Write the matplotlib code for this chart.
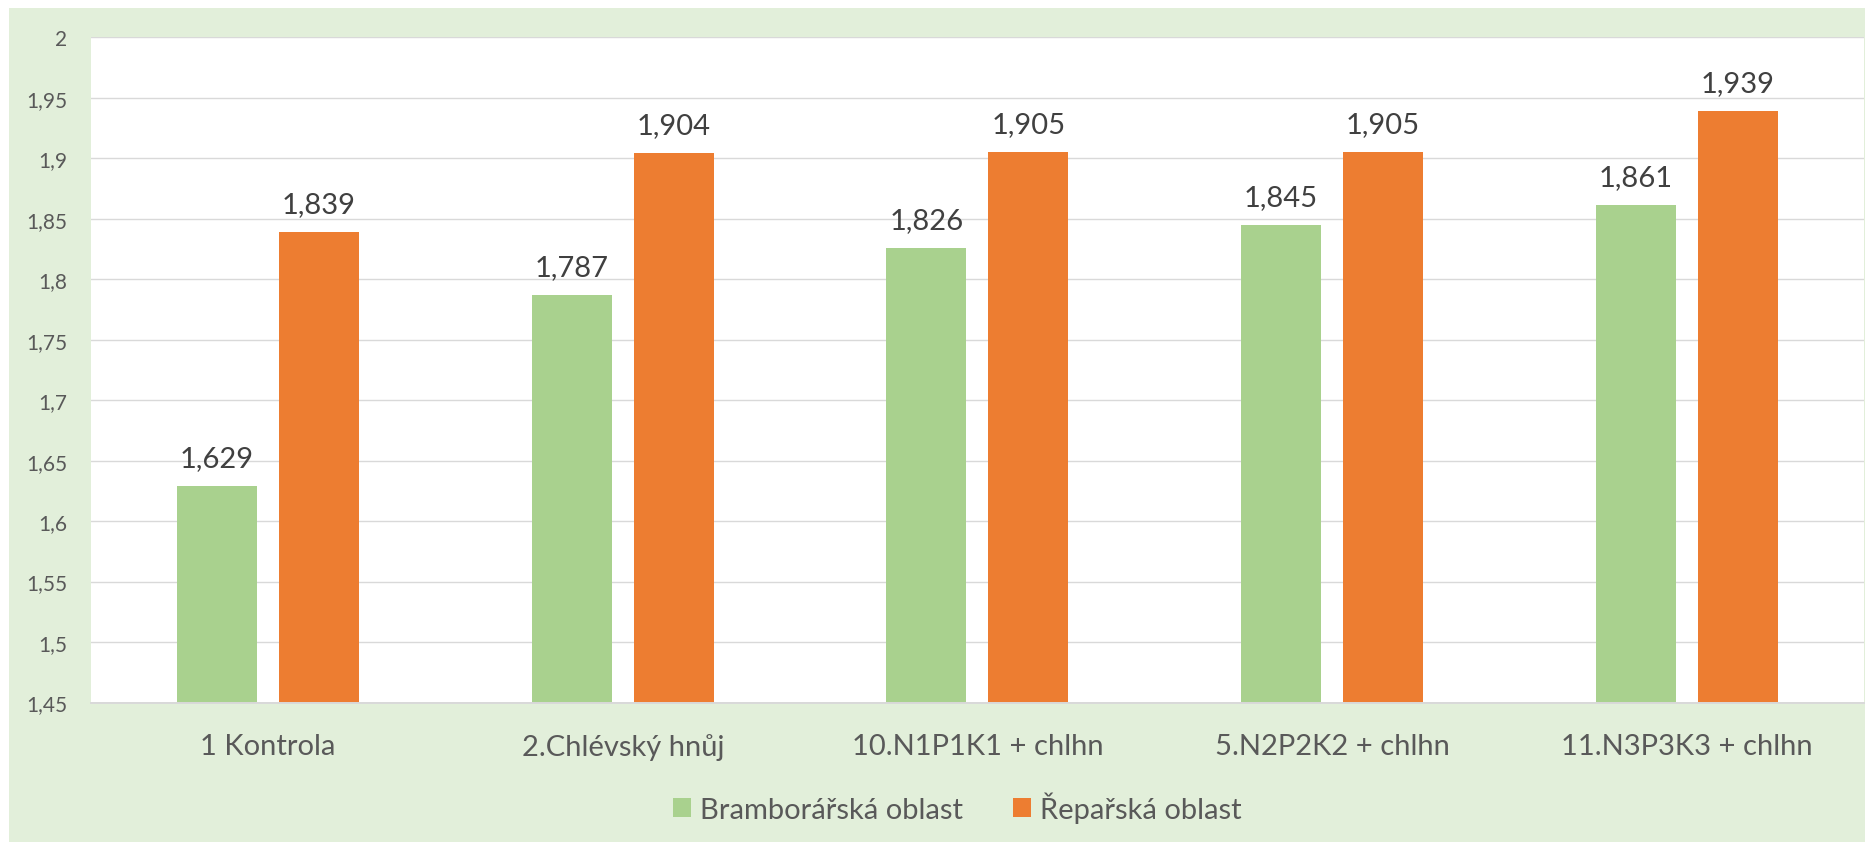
import matplotlib
matplotlib.use("Agg")
import matplotlib.pyplot as plt
from matplotlib.patches import Rectangle
import numpy as np

categories = ["1 Kontrola", "2.Chlévský hnůj", "10.N1P1K1 + chlhn", "5.N2P2K2 + chlhn", "11.N3P3K3 + chlhn"]
series_names = ["Bramborářská oblast", "Řepařská oblast"]
brambor = [1.629, 1.787, 1.826, 1.845, 1.861]
repar = [1.839, 1.904, 1.905, 1.905, 1.939]
yticks = [1.45, 1.5, 1.55, 1.6, 1.65, 1.7, 1.75, 1.8, 1.85, 1.9, 1.95, 2.0]

GREEN = "#A9D18E"
ORANGE = "#ED7D31"
BG = "#E2EFDA"
GRID = "#D9D9D9"
TXT = "#595959"
LBL = "#404040"

plt.rcParams['font.family'] = ['Lato', 'DejaVu Sans']

W, H = 1867, 845
fig = plt.figure(figsize=(W / 100, H / 100), dpi=100)
fig.patch.set_facecolor("white")
fig.add_artist(Rectangle((9 / W, 1 - 843 / H), (1865 - 9) / W, (843 - 9) / H,
                         transform=fig.transFigure, facecolor=BG, edgecolor="none", zorder=0))

left, right, top, bottom = 90.7, 1864, 38.3, 703.5
ax = fig.add_axes([left / W, 1 - bottom / H, (right - left) / W, (bottom - top) / H])
ax.set_facecolor("white")

x = np.arange(len(categories))
w = 80 / 354.7
off = 51 / 354.7
b1 = ax.bar(x - off, brambor, w, color=GREEN, label=series_names[0], zorder=3)
b2 = ax.bar(x + off, repar, w, color=ORANGE, label=series_names[1], zorder=3)

for bars, vals in ((b1, brambor), (b2, repar)):
    for r, v in zip(bars, vals):
        ax.annotate(f"{v:.3f}".replace(".", ","), (r.get_x() + r.get_width() / 2, v),
                    xytext=(0, 14.4), textcoords="offset points", ha="center", va="baseline",
                    fontsize=21, color=LBL, zorder=4)

ax.set_xlim(-0.5, len(categories) - 0.5)
ax.set_ylim(1.45, 2.0)
ax.set_yticks(yticks)
ax.set_yticklabels([f"{round(v, 2):g}".replace(".", ",") for v in yticks])
ax.set_xticks(x)
ax.set_xticklabels(categories)
ax.tick_params(axis="y", length=0, pad=17, labelsize=15, labelcolor=TXT)
ax.tick_params(axis="x", length=0, pad=22, labelsize=21, labelcolor=TXT)

ax.yaxis.grid(True, color=GRID, linewidth=1.0, zorder=0)
ax.set_axisbelow(True)
for s in ("left", "right", "top"):
    ax.spines[s].set_visible(False)
ax.spines["bottom"].set_color(GRID)
ax.spines["bottom"].set_linewidth(1.4)
ax.spines["bottom"].set_zorder(5)

leg = fig.legend(handles=[b1, b2], labels=series_names, loc="center",
                 bbox_to_anchor=(957.5 / W, 1 - 808 / H), ncol=2, frameon=False,
                 fontsize=21, handlelength=0.62, handleheight=0.62, handletextpad=0.32,
                 columnspacing=1.7, labelcolor=TXT)

fig.savefig("out.png", dpi=100, facecolor=fig.get_facecolor())
